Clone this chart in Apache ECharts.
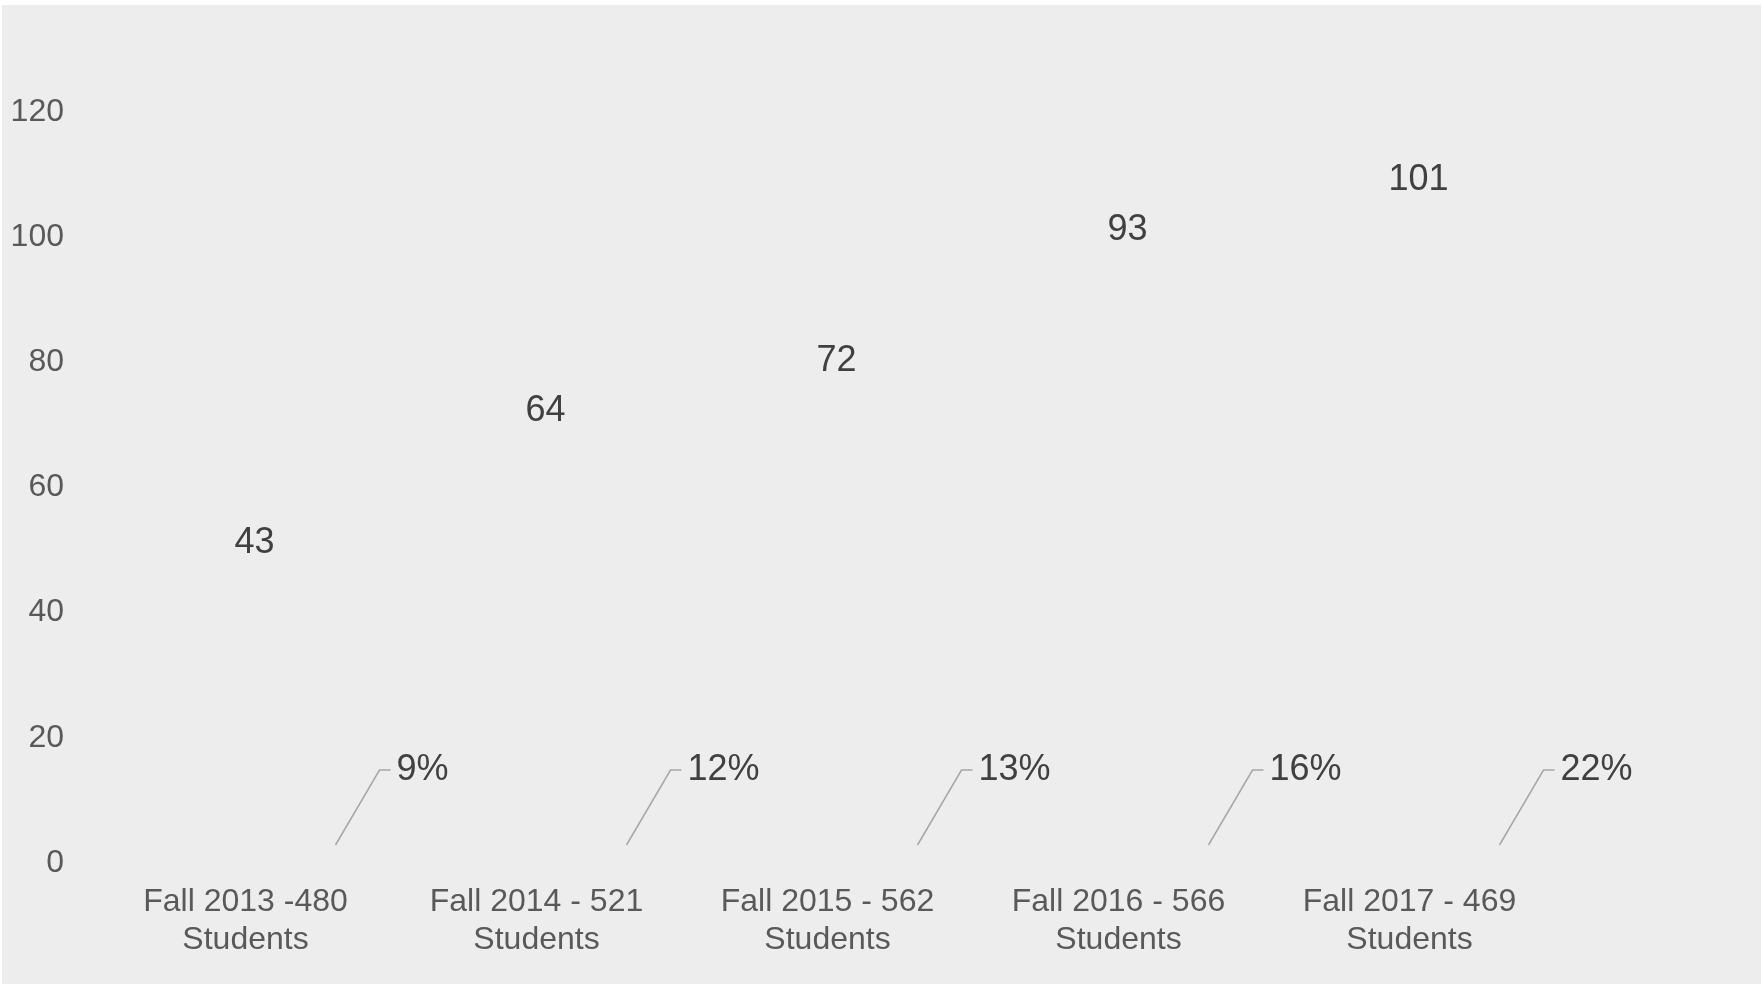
<!DOCTYPE html>
<html><head><meta charset="utf-8">
<script src="https://cdn.jsdelivr.net/npm/echarts@6/dist/echarts.min.js"></script>
<style>
html,body{margin:0;padding:0;background:#ffffff;width:1763px;height:986px;overflow:hidden}
#c{position:absolute;left:2px;top:5px;width:1759px;height:979px;background:#EDEDED}
</style>
</head><body><div id="c"></div>
<script>
const categories = [
  'Fall 2013 -480\nStudents',
  'Fall 2014 - 521\nStudents',
  'Fall 2015 - 562\nStudents',
  'Fall 2016 - 566\nStudents',
  'Fall 2017 - 469\nStudents'
];
const studentCounts = [43, 64, 72, 93, 101];
const percentages = [9, 12, 13, 16, 22];
const yMin = 0, yMax = 120, yInterval = 20;

const FONT = '"Liberation Sans", Arial, Helvetica, sans-serif';
const chart = echarts.init(document.getElementById('c'), null, {renderer: 'canvas'});
chart.setOption({
  animation: false,
  backgroundColor: '#EDEDED',
  grid: {left: 98, right: 206, top: 107, bottom: 121, containLabel: false},
  xAxis: {
    type: 'category',
    data: categories,
    axisLine: {show: false},
    axisTick: {show: false},
    splitLine: {show: false},
    axisLabel: {
      color: '#595959', fontSize: 32, fontFamily: FONT, lineHeight: 38,
      margin: 20, interval: 0
    }
  },
  yAxis: {
    type: 'value',
    min: yMin, max: yMax, interval: yInterval,
    axisLine: {show: false},
    axisTick: {show: false},
    splitLine: {show: false},
    axisLabel: {color: '#595959', fontSize: 32, fontFamily: FONT, margin: 36}
  },
  series: [
    {
      type: 'bar',
      name: 'Students',
      data: studentCounts,
      barWidth: 60,
      itemStyle: {color: 'rgba(0,0,0,0)'},
      label: {
        show: true, position: 'top', distance: 33, offset: [69, 0],
        color: '#404040', fontSize: 36, lineHeight: 36, fontFamily: FONT
      }
    },
    {
      type: 'bar',
      name: 'Percent',
      data: percentages.map(p => p / 100),
      barWidth: 60,
      barGap: '100%',
      barMinHeight: 18,
      itemStyle: {color: 'rgba(0,0,0,0)'},
      label: {
        show: true, position: 'right', distance: 5,
        formatter: p => Math.round(p.value * 100) + '%',
        color: '#404040', fontSize: 36, lineHeight: 36, fontFamily: FONT,
        padding: [0, 0, 0, 6]
      },
      labelLayout: {dx: 50, dy: -84},
      labelLine: {show: true, length2: 11, lineStyle: {color: '#A6A6A6', width: 1.5}}
    }
  ]
});
</script>
</body></html>
